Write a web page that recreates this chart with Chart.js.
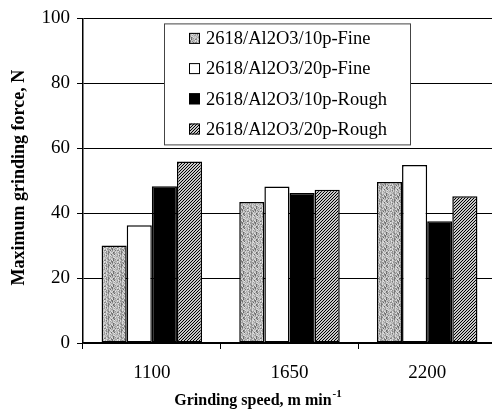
<!DOCTYPE html>
<html>
<head>
<meta charset="utf-8">
<script src="https://cdn.jsdelivr.net/npm/chart.js@4/dist/chart.umd.min.js"></script>
<style>
  html, body { margin: 0; padding: 0; background: #fff; overflow: hidden; }
  #wrap { width: 492px; height: 414px; overflow: hidden; position: relative; }
  #c { display: block; }
</style>
</head>
<body>
<div id="wrap"><canvas id="c" width="496" height="414" style="width:496px;height:414px"></canvas></div>
<script>
// ---- data ----
const categories = ['1100', '1650', '2200'];
const seriesNames = ['2618/Al2O3/10p-Fine', '2618/Al2O3/20p-Fine', '2618/Al2O3/10p-Rough', '2618/Al2O3/20p-Rough'];
const fine10 = [30, 43.4, 49.6];
const fine20 = [36.3, 48.2, 54.8];
const rough10 = [48.3, 46.2, 37.5];
const rough20 = [55.9, 47.2, 45.2];
const yTicks = [0, 20, 40, 60, 80, 100];
const xTitle = 'Grinding speed, m min';
const xTitleSup = '-1';
const yTitle = 'Maximum grinding force, N';

const FONT = "'Liberation Serif', 'Times New Roman', serif";

// ---- patterns (fixed textures) ----
function stipplePattern() {
  const n = 13;
  const t = document.createElement('canvas');
  t.width = n; t.height = n;
  const g = t.getContext('2d');
  const levels = [120, 150, 175, 195, 210, 230, 165, 140, 200, 185, 220, 160, 105, 190, 215, 135, 205];
  for (let y = 0; y < n; y++) {
    for (let x = 0; x < n; x++) {
      const h = (x * 131 + y * 197 + x * y * 71 + ((x ^ y) * 29)) % levels.length;
      const v = levels[h];
      g.fillStyle = 'rgb(' + v + ',' + v + ',' + v + ')';
      g.fillRect(x, y, 1, 1);
    }
  }
  return g.createPattern(t, 'repeat');
}
function hatchPattern() {
  const t = document.createElement('canvas');
  t.width = 3; t.height = 3;
  const g = t.getContext('2d');
  g.fillStyle = '#c8c8c8';
  g.fillRect(0, 0, 3, 3);
  g.fillStyle = '#000000';
  for (let i = 0; i < 3; i++) g.fillRect(i, 2 - i, 1, 1);
  return g.createPattern(t, 'repeat');
}
const fills = [stipplePattern(), '#ffffff', '#000000', hatchPattern()];
const seriesData = [fine10, fine20, rough10, rough20];

const datasets = seriesNames.map((name, i) => ({
  label: name,
  data: seriesData[i],
  backgroundColor: fills[i],
  borderColor: '#000',
  borderWidth: 1.5,
  borderSkipped: false,
  barPercentage: 1.0,
  categoryPercentage: 0.73
}));

// ---- custom legend inside plot + axis titles ----
const extras = {
  id: 'extras',
  afterDatasetsDraw(chart) {
    const ctx = chart.ctx;
    const a = chart.chartArea;
    const bx = a.left + 81, by = a.top + 5, bw = 246, bh = 121;
    ctx.save();
    ctx.fillStyle = '#fff';
    ctx.fillRect(bx, by, bw, bh);
    ctx.strokeStyle = '#444';
    ctx.lineWidth = 1;
    ctx.strokeRect(bx + 0.5, by + 0.5, bw, bh);
    ctx.font = '18.5px ' + FONT;
    ctx.textBaseline = 'middle';
    ctx.textAlign = 'left';
    chart.data.datasets.forEach((ds, i) => {
      const cy = by + 15 + i * 30.2;
      const sx = bx + 25;
      ctx.fillStyle = ds.backgroundColor;
      ctx.fillRect(sx, cy - 5.5, 11, 11);
      ctx.strokeStyle = '#000';
      ctx.strokeRect(sx + 0.5, cy - 5.5 + 0.5, 10, 10);
      ctx.fillStyle = '#000';
      ctx.fillText(ds.label, sx + 17, cy + 1);
    });
    ctx.restore();
  },
  afterDraw(chart) {
    const ctx = chart.ctx;
    const a = chart.chartArea;
    ctx.save();
    ctx.fillStyle = '#000';
    ctx.font = 'bold 18px ' + FONT;
    ctx.translate(19, (a.top + a.bottom) / 2 - 3);
    ctx.rotate(-Math.PI / 2);
    ctx.textAlign = 'center';
    ctx.textBaseline = 'middle';
    ctx.fillText(yTitle, 0, 0);
    ctx.restore();
    ctx.save();
    ctx.fillStyle = '#000';
    ctx.font = 'bold 16px ' + FONT;
    const w1 = ctx.measureText(xTitle).width;
    ctx.font = 'bold 11px ' + FONT;
    const w2 = ctx.measureText(xTitleSup).width;
    const cx = 258;
    const x0 = cx - (w1 + w2 + 1) / 2;
    const base = a.bottom + 62;
    ctx.textAlign = 'left';
    ctx.textBaseline = 'alphabetic';
    ctx.font = 'bold 16px ' + FONT;
    ctx.fillText(xTitle, x0, base);
    ctx.font = 'bold 11px ' + FONT;
    ctx.fillText(xTitleSup, x0 + w1 + 1, base - 8);
    ctx.restore();
  }
};

new Chart(document.getElementById('c'), {
  type: 'bar',
  data: { labels: categories, datasets: datasets },
  plugins: [extras],
  options: {
    responsive: false,
    animation: false,
    devicePixelRatio: 1,
    layout: { padding: { top: 16, right: 0, bottom: 0, left: 0 } },
    plugins: {
      legend: { display: false },
      tooltip: { enabled: false }
    },
    scales: {
      x: {
        grid: { offset: true, drawOnChartArea: false, color: '#000', tickLength: 6, lineWidth: 1 },
        border: { color: '#000', width: 1.5 },
        ticks: { font: { family: FONT, size: 19 }, color: '#000', padding: 13 },
        afterFit(s) { s.height = 71; }
      },
      y: {
        min: 0, max: 100,
        afterBuildTicks(s) { s.ticks = yTicks.map(v => ({ value: v })); },
        grid: { color: '#000', lineWidth: 1, tickLength: 6 },
        border: { color: '#000', width: 1.5 },
        ticks: { font: { family: FONT, size: 19 }, color: '#000', padding: 7 },
        afterFit(s) { s.width = 83; }
      }
    }
  }
});
</script>
</body>
</html>
